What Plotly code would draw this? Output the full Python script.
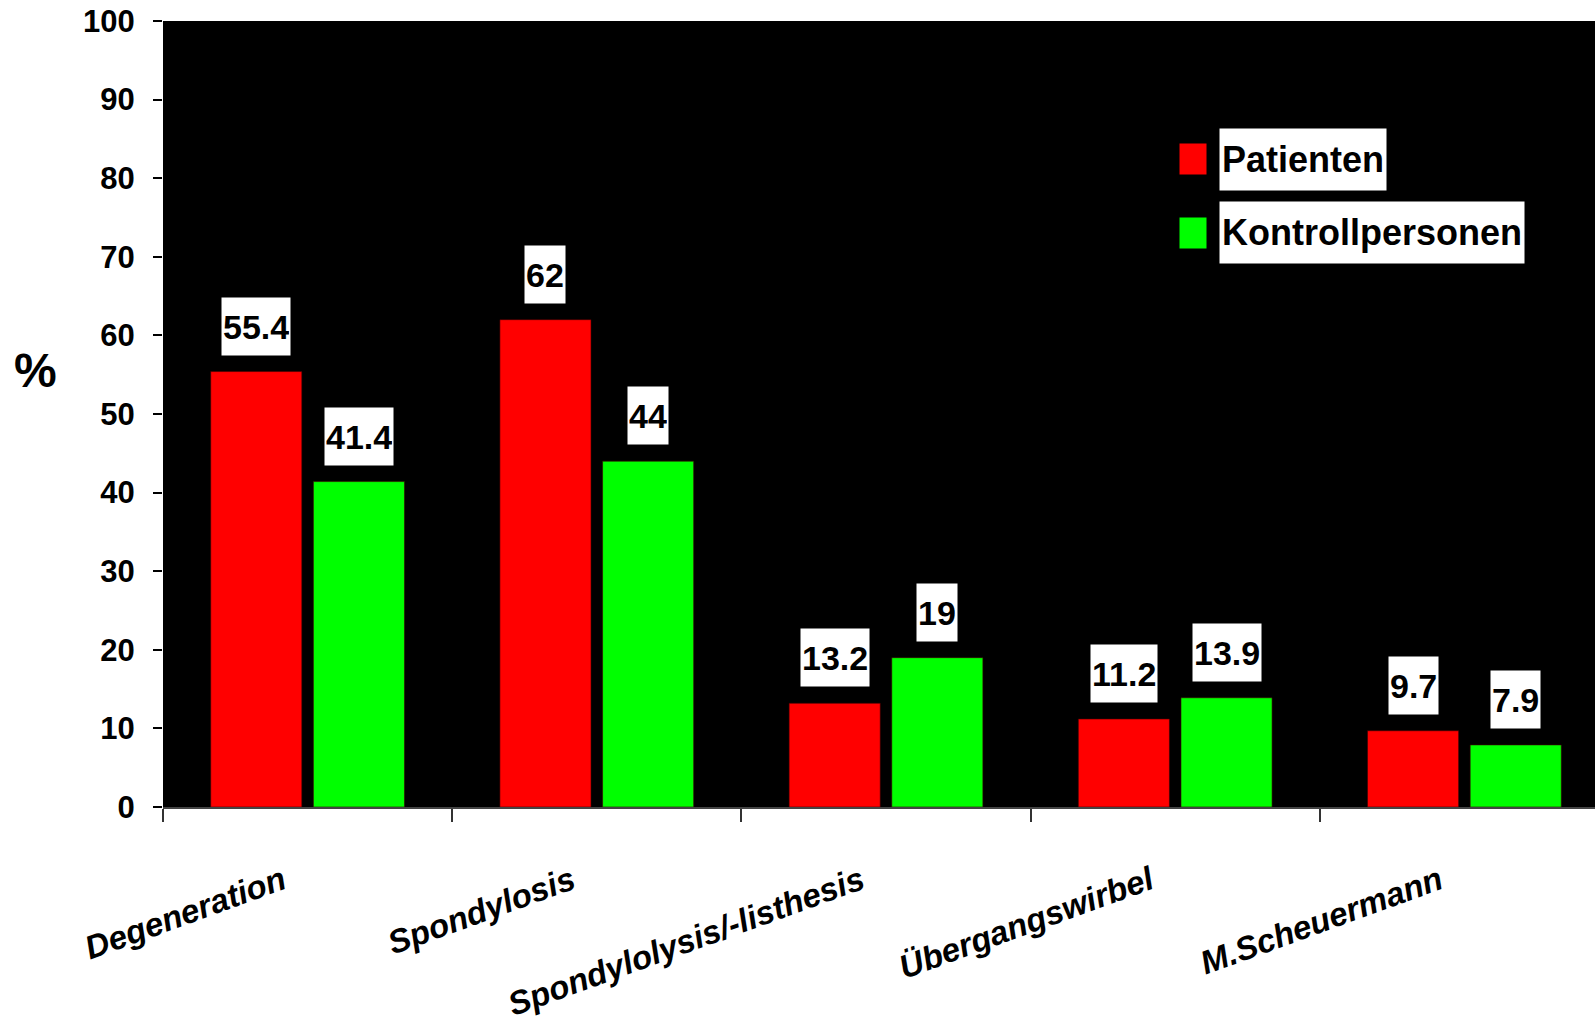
import plotly.graph_objects as go

categories = ["Degeneration", "Spondylosis", "Spondylolysis/-listhesis", "Übergangswirbel", "M.Scheuermann"]
series_names = ["Patienten", "Kontrollpersonen"]
patienten = [55.4, 62, 13.2, 11.2, 9.7]
kontroll = [41.4, 44, 19, 13.9, 7.9]
y_ticks = [0, 10, 20, 30, 40, 50, 60, 70, 80, 90, 100]

RED = "#FF0000"
GREEN = "#00FF00"
FONT = "Liberation Sans, Arial, sans-serif"

W, H = 1595, 1023
ML, MR, MT, MB = 163, 0, 21, 216
PW, PH = W - ML - MR, H - MT - MB

idx = list(range(len(categories)))
bar_w = 0.315
offsets = [-0.335, 0.02]
colors = [RED, GREEN]
values = [patienten, kontroll]

fig = go.Figure()
for name, vals, off, col in zip(series_names, values, offsets, colors):
    fig.add_trace(go.Bar(
        x=idx, y=vals, name=name, width=bar_w, offset=off,
        marker=dict(color=col, line=dict(width=1, color="rgba(60,0,0,0.6)")),
        showlegend=False,
    ))

annotations = []
for vals, off in zip(values, offsets):
    for i, v in zip(idx, vals):
        annotations.append(dict(
            x=i + off + bar_w / 2, y=v, xref="x", yref="y",
            text=f"{v:g}", showarrow=False, yanchor="bottom", xanchor="center",
            yshift=16, bgcolor="white", borderpad=1, height=55, valign="middle",
            font=dict(family=FONT, size=34, color="black", weight="bold"),
        ))

def px_x(p):
    return (p - ML) / PW

def px_y(p):
    return 1 - (p - MT) / PH

# manual legend: colour keys + white-boxed labels
legend_rows = [(143, 128), (217, 201)]
for name, col, (ky, ty) in zip(series_names, colors, legend_rows):
    annotations.append(dict(
        x=px_x(1179), y=px_y(ky), xref="paper", yref="paper",
        xanchor="left", yanchor="top", text=" ", width=26, height=30,
        bgcolor=col, borderpad=0, showarrow=False,
        font=dict(size=10),
    ))
    annotations.append(dict(
        x=px_x(1219), y=px_y(ty), xref="paper", yref="paper",
        xanchor="left", yanchor="top", text=name, bgcolor="white",
        borderpad=2, height=57, valign="middle", showarrow=False,
        font=dict(family=FONT, size=36, color="black", weight="bold"),
    ))

annotations.append(dict(
    x=px_x(35), y=px_y(370), xref="paper", yref="paper",
    xanchor="center", yanchor="middle", text="%", showarrow=False,
    font=dict(family=FONT, size=48, color="black", weight="bold"),
))

fig.update_layout(
    width=W, height=H,
    margin=dict(l=ML, r=MR, t=MT, b=MB, pad=0, autoexpand=False),
    paper_bgcolor="white", plot_bgcolor="black",
    barmode="overlay",
    annotations=annotations,
    xaxis=dict(
        range=[-0.5, -0.5 + PW / 289.2],
        tickmode="array", tickvals=idx, ticktext=categories,
        ticks="", tickangle=-20, automargin=False,
        tickfont=dict(family=FONT, size=33, color="black", weight="bold", style="italic"),
        ticklabelstandoff=40, ticklabelshift=-25,
        showgrid=False, zeroline=False,
        showline=True, linecolor="#444444", linewidth=2,
        minor=dict(tickmode="array", tickvals=[i - 0.5 for i in idx], ticks="outside",
                   ticklen=13, tickwidth=1.5, tickcolor="#333333", showgrid=False),
    ),
    yaxis=dict(
        range=[0, 100], tickmode="array", tickvals=y_ticks, automargin=False,
        ticks="outside", ticklen=9, tickwidth=2, tickcolor="black",
        tickfont=dict(family=FONT, size=31, color="black", weight="bold"),
        ticklabelstandoff=12,
        showgrid=False, zeroline=False, showline=False,
    ),
)

fig.write_html("out.html")
